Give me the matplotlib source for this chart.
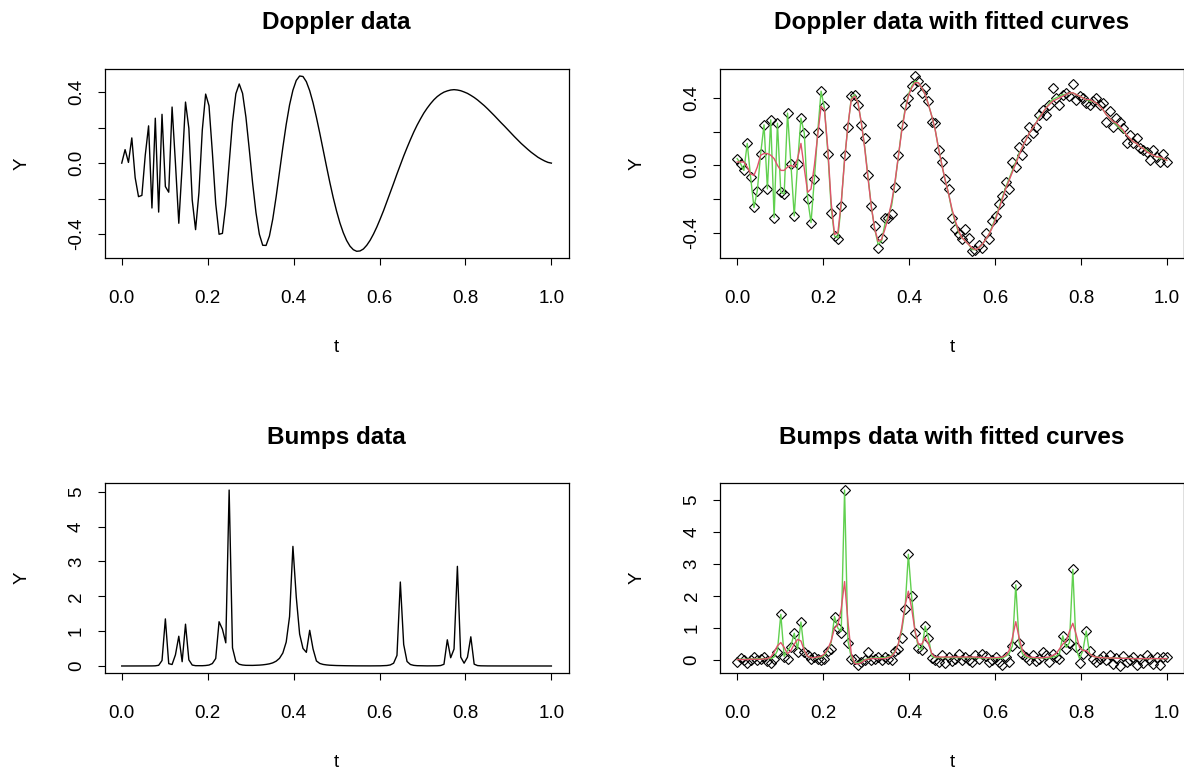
import numpy as np
import matplotlib
matplotlib.use("Agg")
import matplotlib.pyplot as plt

plt.rcParams['font.family'] = ['Liberation Sans', 'DejaVu Sans']

# sample positions (129 points on [0, 1])
t = np.linspace(0, 1, 129)

# Doppler: true signal
doppler_true = [
    0.000, 0.076, 0.004, 0.142, -0.082, -0.189, -0.182, 0.043, 0.210, -0.253,
    0.253, -0.276, 0.275, -0.132, -0.164, 0.316, 0.000, -0.339, -0.017, 0.344,
    0.196, -0.208, -0.375, -0.166, 0.186, 0.389, 0.323, 0.061, -0.228, -0.401,
    -0.396, -0.237, 0.000, 0.232, 0.391, 0.446, 0.393, 0.259, 0.077, -0.114,
    -0.280, -0.401, -0.463, -0.464, -0.411, -0.315, -0.190, -0.051, 0.089, 0.218,
    0.328, 0.411, 0.466, 0.491, 0.488, 0.459, 0.408, 0.340, 0.258, 0.169,
    0.075, -0.018, -0.109, -0.194, -0.270, -0.337, -0.392, -0.436, -0.468, -0.488,
    -0.497, -0.495, -0.484, -0.463, -0.435, -0.400, -0.360, -0.315, -0.268, -0.217,
    -0.166, -0.114, -0.061, -0.010, 0.040, 0.087, 0.132, 0.175, 0.214, 0.249,
    0.282, 0.310, 0.335, 0.357, 0.375, 0.389, 0.400, 0.407, 0.412, 0.414,
    0.412, 0.408, 0.401, 0.393, 0.382, 0.370, 0.356, 0.340, 0.324, 0.306,
    0.287, 0.268, 0.248, 0.228, 0.209, 0.189, 0.169, 0.149, 0.130, 0.111,
    0.094, 0.077, 0.061, 0.047, 0.033, 0.022, 0.012, 0.004, 0.000]

# Doppler: noisy observations
doppler_obs = [
    0.04, 0.01, -0.03, 0.13, -0.07, -0.25, -0.15, 0.07, 0.24, -0.14,
    0.27, -0.31, 0.25, -0.16, -0.17, 0.31, 0.01, -0.30, 0.01, 0.28,
    0.19, -0.20, -0.34, -0.08, 0.20, 0.44, 0.35, 0.07, -0.28, -0.42,
    -0.44, -0.24, 0.06, 0.23, 0.41, 0.42, 0.36, 0.24, 0.16, -0.06,
    -0.24, -0.36, -0.49, -0.43, -0.31, -0.31, -0.29, -0.13, 0.06, 0.24,
    0.36, 0.40, 0.47, 0.53, 0.50, 0.43, 0.46, 0.38, 0.26, 0.25,
    0.09, 0.02, -0.08, -0.14, -0.31, -0.38, -0.41, -0.44, -0.38, -0.43,
    -0.51, -0.50, -0.47, -0.49, -0.40, -0.44, -0.33, -0.30, -0.23, -0.18,
    -0.10, -0.14, 0.02, -0.01, 0.11, 0.06, 0.15, 0.23, 0.19, 0.23,
    0.30, 0.33, 0.30, 0.36, 0.46, 0.40, 0.36, 0.42, 0.43, 0.41,
    0.48, 0.39, 0.41, 0.40, 0.37, 0.36, 0.38, 0.40, 0.36, 0.37,
    0.26, 0.32, 0.23, 0.28, 0.26, 0.22, 0.13, 0.18, 0.13, 0.16,
    0.10, 0.09, 0.08, 0.03, 0.09, 0.05, 0.02, 0.07, 0.02]

# Doppler: fitted curves
doppler_fit1 = [
    0.04, 0.01, -0.03, 0.13, -0.07, -0.25, -0.15, 0.07, 0.24, -0.14,
    0.27, -0.31, 0.25, -0.16, -0.17, 0.31, 0.01, -0.30, 0.01, 0.28,
    0.19, -0.20, -0.34, -0.08, 0.20, 0.44, 0.34, 0.08, -0.25, -0.42,
    -0.43, -0.23, 0.04, 0.23, 0.40, 0.42, 0.37, 0.25, 0.11, -0.07,
    -0.25, -0.38, -0.47, -0.45, -0.35, -0.30, -0.24, -0.11, 0.05, 0.21,
    0.33, 0.42, 0.47, 0.50, 0.49, 0.46, 0.42, 0.36, 0.29, 0.21,
    0.10, 0.00, -0.09, -0.17, -0.27, -0.34, -0.40, -0.43, -0.45, -0.47,
    -0.50, -0.50, -0.49, -0.47, -0.44, -0.41, -0.36, -0.31, -0.25, -0.19,
    -0.13, -0.08, -0.03, 0.02, 0.07, 0.11, 0.15, 0.19, 0.22, 0.25,
    0.29, 0.31, 0.34, 0.37, 0.39, 0.40, 0.41, 0.42, 0.42, 0.43,
    0.43, 0.42, 0.41, 0.40, 0.39, 0.38, 0.38, 0.37, 0.35, 0.33,
    0.30, 0.28, 0.26, 0.24, 0.22, 0.20, 0.18, 0.16, 0.14, 0.13,
    0.11, 0.10, 0.09, 0.07, 0.06, 0.05, 0.04, 0.04, 0.03]

doppler_fit2 = [
    0.02, 0.02, 0.02, -0.01, -0.05, -0.06, -0.01, 0.06, 0.07, 0.07,
    0.06, 0.04, 0.00, -0.03, -0.03, -0.01, 0.00, -0.01, 0.04, 0.13,
    -0.02, -0.16, -0.14, 0.00, 0.18, 0.35, 0.33, 0.10, -0.22, -0.41,
    -0.40, -0.22, 0.03, 0.24, 0.39, 0.41, 0.37, 0.25, 0.10, -0.08,
    -0.25, -0.38, -0.45, -0.44, -0.38, -0.31, -0.22, -0.10, 0.05, 0.20,
    0.32, 0.41, 0.46, 0.49, 0.49, 0.46, 0.42, 0.36, 0.29, 0.21,
    0.10, 0.00, -0.09, -0.17, -0.26, -0.33, -0.39, -0.43, -0.45, -0.47,
    -0.49, -0.50, -0.49, -0.47, -0.44, -0.41, -0.37, -0.32, -0.26, -0.20,
    -0.14, -0.09, -0.04, 0.01, 0.06, 0.11, 0.15, 0.19, 0.22, 0.25,
    0.28, 0.31, 0.34, 0.36, 0.38, 0.39, 0.40, 0.41, 0.42, 0.43,
    0.43, 0.42, 0.41, 0.40, 0.39, 0.39, 0.38, 0.37, 0.35, 0.33,
    0.30, 0.28, 0.26, 0.25, 0.23, 0.21, 0.18, 0.16, 0.14, 0.13,
    0.11, 0.10, 0.08, 0.07, 0.06, 0.05, 0.05, 0.04, 0.03]

# Bumps: true signal
bumps_true = [
    0.000, 0.000, 0.000, 0.000, 0.000, 0.000, 0.000, 0.001, 0.001, 0.002,
    0.005, 0.020, 0.157, 1.352, 0.067, 0.043, 0.320, 0.854, 0.123, 1.200,
    0.176, 0.027, 0.009, 0.007, 0.008, 0.014, 0.027, 0.070, 0.215, 1.270,
    1.055, 0.665, 5.050, 0.520, 0.130, 0.050, 0.028, 0.019, 0.017, 0.017,
    0.020, 0.025, 0.033, 0.045, 0.062, 0.090, 0.138, 0.220, 0.373, 0.687,
    1.418, 3.433, 1.976, 0.916, 0.504, 0.392, 1.024, 0.489, 0.145, 0.073,
    0.045, 0.031, 0.022, 0.017, 0.013, 0.012, 0.009, 0.007, 0.005, 0.004,
    0.004, 0.003, 0.003, 0.003, 0.003, 0.003, 0.004, 0.005, 0.008, 0.014,
    0.030, 0.080, 0.304, 2.410, 0.618, 0.129, 0.043, 0.018, 0.009, 0.006,
    0.004, 0.003, 0.003, 0.003, 0.006, 0.013, 0.049, 0.752, 0.237, 0.486,
    2.860, 0.255, 0.080, 0.252, 0.838, 0.052, 0.012, 0.005, 0.002, 0.002,
    0.001, 0.001, 0.001, 0.001, 0.001, 0.001, 0.001, 0.001, 0.001, 0.001,
    0.000, 0.000, 0.000, 0.000, 0.000, 0.000, 0.000, 0.000, 0.000]

# Bumps: noisy observations
bumps_obs = [
    -0.05, 0.07, 0.00, -0.10, 0.02, 0.10, 0.00, 0.03, 0.10, -0.01,
    -0.10, 0.05, 0.25, 1.43, 0.10, 0.03, 0.40, 0.84, 0.25, 1.19,
    0.25, 0.15, 0.05, 0.10, 0.05, 0.00, 0.05, 0.30, 0.35, 1.36,
    1.00, 0.84, 5.30, 0.55, 0.05, 0.05, -0.15, -0.05, 0.00, 0.25,
    0.00, 0.05, 0.10, 0.00, 0.10, 0.05, 0.00, 0.30, 0.35, 0.69,
    1.59, 3.30, 2.00, 0.84, 0.37, 0.33, 1.06, 0.68, 0.07, 0.00,
    -0.05, 0.15, -0.08, 0.10, -0.02, 0.05, 0.20, 0.02, 0.10, 0.00,
    -0.05, 0.15, 0.05, 0.20, 0.12, -0.05, 0.00, 0.10, -0.05, -0.15,
    0.10, -0.05, 0.45, 2.35, 0.55, 0.20, 0.10, 0.00, 0.15, -0.02,
    0.05, 0.25, 0.15, -0.05, 0.20, 0.10, 0.05, 0.76, 0.35, 0.55,
    2.83, 0.40, -0.10, 0.20, 0.91, 0.30, 0.05, -0.05, 0.05, 0.12,
    0.00, 0.15, -0.12, 0.08, -0.18, 0.12, -0.05, 0.00, 0.10, -0.15,
    0.05, -0.10, 0.15, 0.05, -0.12, 0.10, -0.15, 0.10, 0.10]

# Bumps: fitted curves
bumps_fit1 = [
    0.02, 0.03, 0.03, 0.03, 0.04, 0.04, 0.05, 0.05, 0.05, 0.05,
    0.05, 0.10, 0.30, 1.43, 0.12, 0.30, 0.45, 0.84, 0.35, 1.19,
    0.28, 0.12, 0.08, 0.08, 0.08, 0.10, 0.15, 0.32, 0.55, 1.36,
    1.00, 0.90, 5.30, 0.60, 0.08, -0.08, -0.08, -0.03, 0.02, 0.05,
    0.06, 0.07, 0.07, 0.08, 0.08, 0.10, 0.15, 0.28, 0.50, 0.90,
    1.59, 3.30, 1.95, 0.88, 0.40, 0.33, 1.06, 0.68, 0.12, 0.08,
    0.08, 0.08, 0.08, 0.08, 0.08, 0.08, 0.08, 0.08, 0.08, 0.08,
    0.08, 0.08, 0.07, 0.07, 0.07, 0.07, 0.06, 0.06, 0.06, 0.06,
    0.12, 0.20, 0.45, 2.35, 0.55, 0.20, 0.10, 0.08, 0.07, 0.07,
    0.07, 0.07, 0.07, 0.07, 0.10, 0.12, 0.20, 0.76, 0.40, 0.55,
    2.83, 0.35, 0.05, 0.30, 0.91, 0.20, 0.12, 0.10, 0.09, 0.08,
    0.08, 0.07, 0.07, 0.07, 0.06, 0.06, 0.06, 0.06, 0.05, 0.05,
    0.05, 0.05, 0.05, 0.05, 0.05, 0.05, 0.05, 0.05, 0.05]

bumps_fit2 = [
    0.02, 0.02, 0.02, 0.02, 0.03, 0.03, 0.03, 0.03, 0.04, 0.05,
    0.10, 0.25, 0.45, 0.55, 0.40, 0.20, 0.30, 0.50, 0.65, 0.60,
    0.30, 0.12, 0.08, 0.08, 0.10, 0.12, 0.20, 0.35, 0.60, 1.00,
    1.10, 1.60, 2.45, 1.20, 0.20, -0.10, -0.12, -0.08, 0.00, 0.03,
    0.05, 0.05, 0.05, 0.05, 0.05, 0.08, 0.12, 0.25, 0.50, 1.00,
    1.70, 2.15, 1.60, 0.90, 0.50, 0.50, 0.70, 0.50, 0.20, 0.10,
    0.10, 0.10, 0.10, 0.10, 0.10, 0.10, 0.10, 0.10, 0.10, 0.10,
    0.10, 0.10, 0.09, 0.09, 0.08, 0.08, 0.08, 0.08, 0.09, 0.10,
    0.15, 0.30, 0.70, 1.20, 0.70, 0.30, 0.15, 0.10, 0.09, 0.08,
    0.08, 0.08, 0.09, 0.10, 0.15, 0.20, 0.35, 0.50, 0.60, 0.90,
    1.15, 0.80, 0.40, 0.30, 0.30, 0.20, 0.12, 0.10, 0.08, 0.08,
    0.07, 0.07, 0.07, 0.06, 0.06, 0.06, 0.06, 0.05, 0.05, 0.05,
    0.05, 0.05, 0.05, 0.05, 0.05, 0.05, 0.05, 0.05, 0.05]

x_ticks = [0.0, 0.2, 0.4, 0.6, 0.8, 1.0]
x_labels = ['0.0', '0.2', '0.4', '0.6', '0.8', '1.0']
dop_ticks = [-0.4, -0.2, 0.0, 0.2, 0.4]
dop_labels = ['-0.4', '', '0.0', '', '0.4']
bump_ticks = [0, 1, 2, 3, 4, 5]
bump_labels = ['0', '1', '2', '3', '4', '5']

GREEN = '#61D04F'
RED = '#DF536B'

fig = plt.figure(figsize=(11.84, 7.69), dpi=100)


def style(ax, title, yticks, ylabels, title_y):
    ax.margins(0.04)
    ax.set_xticks(x_ticks)
    ax.set_xticklabels(x_labels)
    ax.set_yticks(yticks)
    ax.set_yticklabels(ylabels, rotation=90, va='center')
    ax.tick_params(direction='out', length=5, width=0.8, labelsize=13.5)
    ax.tick_params(axis='x', pad=18)
    ax.tick_params(axis='y', pad=9)
    for s in ax.spines.values():
        s.set_linewidth(0.9)
    ax.set_title(title, fontsize=17.5, fontweight='bold', y=title_y, pad=0, va='center')
    ax.set_xlabel('t', fontsize=13.5, va='center')
    ax.xaxis.set_label_coords(0.5, -0.47)
    ax.set_ylabel('Y', fontsize=13.5, va='center')
    ax.yaxis.set_label_coords(-0.178, 0.5)


# top left: Doppler signal
ax1 = fig.add_axes([0.0883, 0.6641, 0.3919, 0.2462])
ax1.plot(t, doppler_true, color='black', lw=1.0)
style(ax1, 'Doppler data', dop_ticks, dop_labels, 1.248)

# top right: Doppler with fits
ax2 = fig.add_axes([0.6081, 0.6641, 0.3919, 0.2462])
ax2.plot(t, doppler_obs, 'D', ms=5.5, mfc='none', mec='black', mew=0.8)
ax2.plot(t, doppler_fit1, color=GREEN, lw=1.0)
ax2.plot(t, doppler_fit2, color=RED, lw=1.0)
style(ax2, 'Doppler data with fitted curves', dop_ticks, dop_labels, 1.248)

# bottom left: Bumps signal
ax3 = fig.add_axes([0.0883, 0.1248, 0.3919, 0.2471])
ax3.plot(t, bumps_true, color='black', lw=1.0)
style(ax3, 'Bumps data', bump_ticks, bump_labels, 1.242)

# bottom right: Bumps with fits
ax4 = fig.add_axes([0.6081, 0.1248, 0.3919, 0.2471])
ax4.plot(t, bumps_obs, 'D', ms=5.5, mfc='none', mec='black', mew=0.8)
ax4.plot(t, bumps_fit1, color=GREEN, lw=1.0)
ax4.plot(t, bumps_fit2, color=RED, lw=1.0)
style(ax4, 'Bumps data with fitted curves', bump_ticks, bump_labels, 1.242)

fig.savefig('out.png', dpi=100)
